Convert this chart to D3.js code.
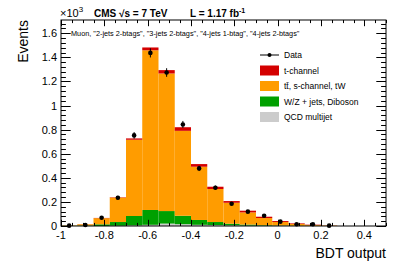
<!DOCTYPE html>
<html><head><meta charset="utf-8">
<script src="https://cdn.jsdelivr.net/npm/d3@7"></script>
<style>html,body{margin:0;padding:0;background:#fff;}svg{display:block;font-family:"Liberation Sans",Arial,sans-serif;}</style>
</head><body>
<script>
// Bin edges: 20 bins of width 0.075 from -1 to 0.5
const binEdges = d3.range(21).map(i => -1 + i * 0.075);
// Stack components (events)
const qcd   = [0,0,0,2,5,10,20,15,10,8,5,3,2,1,0,0,0,0,0,0];
const wz    = [1,4,14,31,78,123,104,70,40,25,14,9,5,3,2,1,0,0,0,0];
const ttbar = [3,10,51,203,633,1326,1142,705,442,274,174,101,59,29,15,7,3,0,0,0];
const tchan = [0,1,2,3,11,23,28,30,22,19,14,14,11,8,5,3,1,0,0,0];
const dataY = [3,8,69,235,752,1437,1274,843,478,318,185,119,85,36,14,14,3,0,0,0];
const xTicks = [-1,-0.8,-0.6,-0.4,-0.2,0,0.2,0.4];
const yTicks = [0,200,400,600,800,1000,1200,1400,1600];
const seriesNames = ["QCD multijet","W/Z + jets, Diboson","tt\u0304, s-channel, tW","t-channel"];
const seriesColors = ["#cccccc","#00a000","#ff9c00","#d40000"];

const W = 407, H = 276;
const fx0 = 61, fx1 = 386, fy0 = 20, fy1 = 226;
const x = d3.scaleLinear().domain([-1, 0.5]).range([fx0, fx1]);
const y = d3.scaleLinear().domain([0, 1710]).range([fy1, fy0]);

const svg = d3.select("body").append("svg").attr("width", W).attr("height", H);
svg.append("rect").attr("width", W).attr("height", H).attr("fill", "#fff");

// stacked bars
const rows = binEdges.slice(0, -1).map((e, i) => ({i, lo: e, hi: binEdges[i+1], s0: qcd[i], s1: wz[i], s2: ttbar[i], s3: tchan[i]}));
const stack = d3.stack().keys(["s0","s1","s2","s3"])(rows);
const gBars = svg.append("g");
stack.forEach((layer, k) => {
  gBars.selectAll(null).data(layer.filter(d => d[1] > d[0])).join("rect")
    .attr("x", d => x(d.data.lo))
    .attr("width", d => x(d.data.hi) - x(d.data.lo))
    .attr("y", d => y(d[1]))
    .attr("height", d => y(d[0]) - y(d[1]))
    .attr("fill", seriesColors[k]);
});

// data points
const pts = rows.map(r => ({xc: (r.lo + r.hi) / 2, v: dataY[r.i]})).filter(d => d.v > 0);
const gData = svg.append("g");
gData.selectAll("line").data(pts).join("line")
  .attr("x1", d => x(d.xc)).attr("x2", d => x(d.xc))
  .attr("y1", d => y(d.v + Math.sqrt(d.v))).attr("y2", d => y(Math.max(0, d.v - Math.sqrt(d.v))))
  .attr("stroke", "#000").attr("stroke-width", 1);
gData.selectAll("circle").data(pts).join("circle")
  .attr("cx", d => x(d.xc)).attr("cy", d => y(d.v)).attr("r", 2.3).attr("fill", "#000");

// frame
svg.append("rect").attr("x", fx0).attr("y", fy0).attr("width", fx1 - fx0).attr("height", fy1 - fy0)
  .attr("fill", "none").attr("stroke", "#000").attr("stroke-width", 1);

// ticks (inward, all four sides)
const xMinor = d3.range(-1, 0.5001, 0.05);
const yMinor = d3.range(0, 1700, 40);
const gT = svg.append("g").attr("stroke", "#000").attr("stroke-width", 1);
const isMajX = v => xTicks.some(t => Math.abs(t - v) < 1e-6);
const isMajY = v => yTicks.some(t => Math.abs(t - v) < 1e-6);
xMinor.forEach(v => {
  const L = isMajX(v) ? 6.2 : 3.1;
  const px = Math.round(x(v)) + 0.5;
  gT.append("line").attr("x1", px).attr("x2", px).attr("y1", fy1).attr("y2", fy1 - L);
  gT.append("line").attr("x1", px).attr("x2", px).attr("y1", fy0).attr("y2", fy0 + L);
});
yMinor.forEach(v => {
  const L = isMajY(v) ? 9.7 : 4.9;
  const py = Math.round(y(v)) + 0.5;
  gT.append("line").attr("x1", fx0).attr("x2", fx0 + L).attr("y1", py).attr("y2", py);
  gT.append("line").attr("x1", fx1).attr("x2", fx1 - L).attr("y1", py).attr("y2", py);
});

// tick labels
svg.append("g").selectAll("text").data(xTicks).join("text")
  .attr("x", d => x(d)).attr("y", 239).attr("text-anchor", "middle")
  .attr("font-size", 11).attr("fill", "#000")
  .text(d => d === 0 ? "0" : String(d));
svg.append("g").selectAll("text").data(yTicks).join("text")
  .attr("x", 57).attr("y", d => y(d) + 4).attr("text-anchor", "end")
  .attr("font-size", 11).attr("fill", "#000")
  .text(d => d === 0 ? "0" : String(d / 1000));

// axis titles
svg.append("text").attr("x", fx1).attr("y", 258).attr("text-anchor", "end")
  .attr("font-size", 14).text("BDT output");
svg.append("text").attr("transform", `translate(28,${fy0}) rotate(-90)`).attr("text-anchor", "end")
  .attr("font-size", 14).text("Events");

// x10^3
const t10 = svg.append("text").attr("x", 60).attr("y", 17).attr("font-size", 11);
t10.append("tspan").text("\u00d710");
t10.append("tspan").attr("dy", -5).attr("font-size", 8).text("3");

// CMS header
const hdr = svg.append("text").attr("x", 94).attr("y", 17).attr("font-size", 10).attr("font-weight", "bold");
hdr.append("tspan").text("CMS \u221as = 7 TeV");
hdr.append("tspan").attr("x", 190).text("L = 1.17 fb");
hdr.append("tspan").attr("dy", -4).attr("font-size", 7).text("-1");

// channel text
svg.append("text").attr("x", 71).attr("y", 36).attr("font-size", 7.3)
  .text('Muon, "2-jets 2-btags", "3-jets 2-btags", "4-jets 1-btag", "4-jets 2-btags"');

// legend
const lx = 260, lw = 19, tx = 284;
const gL = svg.append("g");
const dataY0 = 55;
gL.append("line").attr("x1", lx).attr("x2", lx + lw).attr("y1", dataY0).attr("y2", dataY0).attr("stroke", "#000");
gL.append("circle").attr("cx", lx + lw / 2).attr("cy", dataY0).attr("r", 2).attr("fill", "#000");
gL.append("text").attr("x", tx).attr("y", dataY0 + 3).attr("font-size", 8.5).text("Data");
const legItems = [3, 2, 1, 0];
legItems.forEach((k, j) => {
  const cy = 70.5 + j * 15.5;
  gL.append("rect").attr("x", lx).attr("y", cy - 5).attr("width", lw).attr("height", 10).attr("fill", seriesColors[k]);
  gL.append("text").attr("x", tx).attr("y", cy + 3).attr("font-size", 8.5).text(seriesNames[k]);
});
</script>
</body></html>
